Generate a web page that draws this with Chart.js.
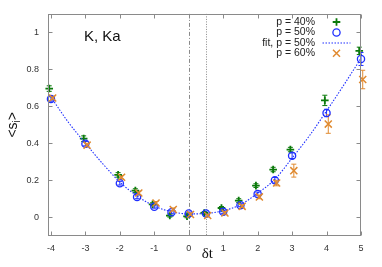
<!DOCTYPE html>
<html><head><meta charset="utf-8">
<script src="https://cdn.jsdelivr.net/npm/chart.js@4.4.0/dist/chart.umd.min.js"></script>
<style>html,body{margin:0;padding:0;background:#fff}canvas{display:block}</style>
</head><body>
<canvas id="c" width="382" height="267"></canvas>
<script>
// ---- data ----
const xs       = [-4, -3, -2, -1.5, -1, -0.5, 0, 0.5, 1, 1.5, 2, 2.5, 3, 4, 5];
const p40      = [0.696, 0.425, 0.229, 0.144, 0.070, 0.009, 0.005, 0.023, 0.050, 0.090, 0.171, 0.258, 0.366, 0.632, 0.900];
const p40Err   = [0.015, 0.015, 0.012, 0.010, 0.008, 0.008, 0.008, 0.008, 0.008, 0.010, 0.010, 0.012, 0.012, 0.028, 0.020];
const p50      = [0.640, 0.398, 0.184, 0.110, 0.057, 0.027, 0.020, 0.020, 0.029, 0.065, 0.126, 0.200, 0.333, 0.564, 0.856];
const p50Err   = [0.012, 0.012, 0.010, 0.010, 0.008, 0.008, 0.008, 0.008, 0.008, 0.008, 0.010, 0.015, 0.015, 0.020, 0.035];
const p60      = [0.645, 0.390, 0.216, 0.131, 0.077, 0.042, 0.015, 0.009, 0.023, 0.059, 0.110, 0.185, 0.252, 0.504, 0.745];
const p60Err   = [0.010, 0.010, 0.010, 0.010, 0.008, 0.008, 0.008, 0.008, 0.008, 0.008, 0.010, 0.015, 0.035, 0.050, 0.050];
const fitX     = [-4, -3.5, -3, -2.5, -2, -1.5, -1, -0.5, 0, 0.5, 1, 1.5, 2, 2.5, 3, 3.5, 4, 4.5, 5];
const fitY     = [0.650, 0.515, 0.400, 0.290, 0.190, 0.115, 0.060, 0.030, 0.018, 0.020, 0.035, 0.068, 0.130, 0.205, 0.320, 0.440, 0.575, 0.715, 0.860];
const seriesLabels = ['p = 40%', 'p = 50%', 'fit, p = 50%', 'p = 60%'];
const xTickValues = [-4, -3, -2, -1, 0, 1, 2, 3, 4, 5];
const xTickLabels = ['-4', '-3', '-2', '-1', '0', '1', '2', '3', '4', '5'];
const yTickValues = [0, 0.2, 0.4, 0.6, 0.8, 1];
const yTickLabels = ['0', '0.2', '0.4', '0.6', '0.8', '1'];
const refLines = [0, 0.5];
const xTitle = 'δt';
const panelLabel = 'K, Ka';

// ---- styles ----
const GREEN = '#0b7a0b', BLUE = '#1f2fff', ORANGE = '#e08a30', AXIS = '#8a8a8a', TXT = '#333';
const jitter = 0.05;

const pts = (vals, dx) => xs.map((v, i) => ({x: v + dx, y: vals[i]}));

const datasets = [
  {label: seriesLabels[0], data: pts(p40, -jitter), errors: p40Err, borderColor: GREEN, backgroundColor: GREEN,
   pointStyle: 'cross', pointRadius: 3.8, pointBorderWidth: 1.8, showLine: false, order: 4, clip: false},
  {label: seriesLabels[1], data: pts(p50, 0), errors: p50Err, borderColor: BLUE, backgroundColor: 'rgba(0,0,0,0)',
   pointStyle: 'circle', pointRadius: 3.6, pointBorderWidth: 1.3, showLine: false, order: 3, clip: false},
  {label: seriesLabels[2], data: fitX.map((v, i) => ({x: v, y: fitY[i]})), borderColor: BLUE, borderWidth: 1.1,
   borderDash: [1.5, 1.5], pointRadius: 0, showLine: true, tension: 0.4, cubicInterpolationMode: 'monotone', order: 2},
  {label: seriesLabels[3], data: pts(p60, jitter), errors: p60Err, borderColor: ORANGE, backgroundColor: ORANGE,
   pointStyle: 'crossRot', pointRadius: 5, pointBorderWidth: 1.5, showLine: false, order: 1, clip: false}
];

function drawMarker(ctx, style, color, cx, cy) {
  ctx.save();
  ctx.strokeStyle = color;
  ctx.beginPath();
  if (style === 'cross') {
    ctx.lineWidth = 1.8;
    ctx.moveTo(cx - 3.8, cy); ctx.lineTo(cx + 3.8, cy);
    ctx.moveTo(cx, cy - 3.8); ctx.lineTo(cx, cy + 3.8);
  } else if (style === 'circle') {
    ctx.lineWidth = 1.3;
    ctx.arc(cx, cy, 3.6, 0, Math.PI * 2);
  } else if (style === 'crossRot') {
    ctx.lineWidth = 1.5;
    ctx.moveTo(cx - 3.5, cy - 3.5); ctx.lineTo(cx + 3.5, cy + 3.5);
    ctx.moveTo(cx - 3.5, cy + 3.5); ctx.lineTo(cx + 3.5, cy - 3.5);
  } else if (style === 'line') {
    ctx.lineWidth = 1.1;
    ctx.setLineDash([1.5, 1.5]);
    ctx.moveTo(cx - 14, cy); ctx.lineTo(cx + 14, cy);
  }
  ctx.stroke();
  ctx.restore();
}

const deco = {
  id: 'deco',
  beforeDatasetsDraw(chart) {
    const {ctx, chartArea: a, scales: {x, y}} = chart;
    ctx.save();
    ctx.strokeStyle = AXIS; ctx.lineWidth = 1;
    // reference lines
    ctx.setLineDash([4, 2, 1, 2]);
    let px = Math.round(x.getPixelForValue(refLines[0])) + 0.5;
    ctx.beginPath(); ctx.moveTo(px, a.top); ctx.lineTo(px, a.bottom); ctx.stroke();
    ctx.setLineDash([1, 1.5]);
    px = Math.round(x.getPixelForValue(refLines[1])) + 0.5;
    ctx.beginPath(); ctx.moveTo(px, a.top); ctx.lineTo(px, a.bottom); ctx.stroke();
    ctx.setLineDash([]);
    // error bars
    chart.data.datasets.forEach(ds => {
      if (!ds.errors) return;
      ctx.strokeStyle = ds.borderColor; ctx.lineWidth = 1;
      ds.data.forEach((p, j) => {
        const cx = x.getPixelForValue(p.x);
        const y1 = y.getPixelForValue(p.y - ds.errors[j]);
        const y2 = y.getPixelForValue(p.y + ds.errors[j]);
        ctx.beginPath();
        ctx.moveTo(cx, y1); ctx.lineTo(cx, y2);
        ctx.moveTo(cx - 2.5, y1); ctx.lineTo(cx + 2.5, y1);
        ctx.moveTo(cx - 2.5, y2); ctx.lineTo(cx + 2.5, y2);
        ctx.stroke();
      });
    });
    ctx.restore();
  },
  afterDraw(chart) {
    const {ctx, chartArea: a, scales: {x, y}} = chart;
    ctx.save();
    // border box with inward mirrored ticks
    ctx.strokeStyle = AXIS; ctx.lineWidth = 1;
    const L = Math.round(a.left) + 0.5, R = Math.round(a.right) - 0.5, T = Math.round(a.top) + 0.5, B = Math.round(a.bottom) - 0.5;
    ctx.strokeRect(L, T, R - L, B - T);
    ctx.beginPath();
    xTickValues.forEach(v => {
      const p = Math.round(x.getPixelForValue(v)) + 0.5;
      ctx.moveTo(p, B); ctx.lineTo(p, B - 4);
      ctx.moveTo(p, T); ctx.lineTo(p, T + 4);
    });
    yTickValues.forEach(v => {
      const p = Math.round(y.getPixelForValue(v)) + 0.5;
      ctx.moveTo(L, p); ctx.lineTo(L + 4, p);
      ctx.moveTo(R, p); ctx.lineTo(R - 4, p);
    });
    ctx.stroke();
    // axis titles
    ctx.fillStyle = '#111';
    ctx.textAlign = 'center'; ctx.textBaseline = 'alphabetic';
    ctx.font = '15px "Liberation Serif", serif';
    ctx.fillText(xTitle, (a.left + a.right) / 2 + 3, 258);
    ctx.save();
    ctx.translate(17, (a.top + a.bottom) / 2);
    ctx.rotate(-Math.PI / 2);
    ctx.textAlign = 'left';
    ctx.font = '14px "Liberation Sans", Arial, sans-serif';
    const w1 = ctx.measureText('<s').width;
    ctx.font = '10px "Liberation Sans", Arial, sans-serif';
    const w2 = ctx.measureText('i').width;
    ctx.font = '14px "Liberation Sans", Arial, sans-serif';
    const w3 = ctx.measureText('>').width;
    let sx = -(w1 + w2 + w3) / 2;
    ctx.fillText('<s', sx, 0);
    ctx.font = '10px "Liberation Sans", Arial, sans-serif';
    ctx.fillText('i', sx + w1, 3);
    ctx.font = '14px "Liberation Sans", Arial, sans-serif';
    ctx.fillText('>', sx + w1 + w2, 0);
    ctx.restore();
    // panel label
    ctx.textAlign = 'left';
    ctx.font = '15px "Liberation Sans", Arial, sans-serif';
    ctx.fillText(panelLabel, 84, 41);
    // legend
    const styles = ['cross', 'circle', 'line', 'crossRot'];
    const colors = [GREEN, BLUE, BLUE, ORANGE];
    const rowsY = [22, 32.5, 43, 53.3];
    ctx.font = '10.5px "Liberation Sans", Arial, sans-serif';
    ctx.textAlign = 'right'; ctx.textBaseline = 'middle';
    seriesLabels.forEach((lab, i) => {
      ctx.fillStyle = '#222';
      ctx.fillText(lab, 315, rowsY[i]);
      drawMarker(ctx, styles[i], colors[i], 336.5, rowsY[i]);
    });
    ctx.restore();
  }
};

new Chart(document.getElementById('c'), {
  type: 'scatter',
  data: {datasets},
  options: {
    responsive: false, animation: false, devicePixelRatio: 1,
    layout: {padding: {top: 12.5, right: 21, left: 0, bottom: 0}},
    plugins: {legend: {display: false}, tooltip: {enabled: false}},
    scales: {
      x: {
        type: 'linear', min: -4.1, max: 5.0,
        afterBuildTicks: s => { s.ticks = xTickValues.map(v => ({value: v})); },
        afterFit: s => { s.height = 31.3; },
        grid: {display: false, drawTicks: false}, border: {display: false},
        ticks: {callback: (v, i) => xTickLabels[i], font: {size: 9, family: '"Liberation Sans", Arial, sans-serif'},
                color: TXT, padding: 7, maxRotation: 0, autoSkip: false}
      },
      y: {
        type: 'linear', min: -0.1, max: 1.1,
        afterBuildTicks: s => { s.ticks = yTickValues.map(v => ({value: v})); },
        afterFit: s => { s.width = 47.5; },
        grid: {display: false, drawTicks: false}, border: {display: false},
        ticks: {callback: (v, i) => yTickLabels[i], font: {size: 9, family: '"Liberation Sans", Arial, sans-serif'},
                color: TXT, padding: 8.5, autoSkip: false}
      }
    }
  },
  plugins: [deco]
});
</script>
</body></html>
